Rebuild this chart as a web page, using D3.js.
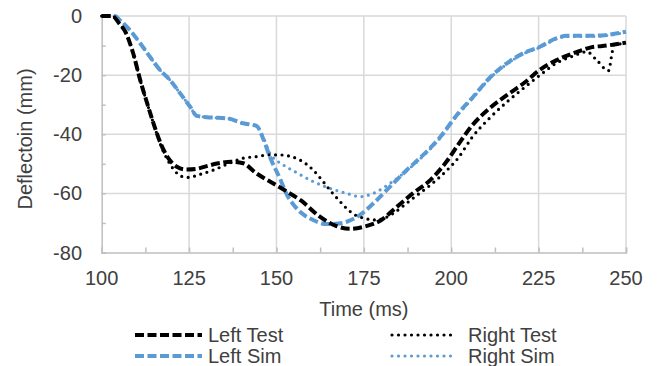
<!DOCTYPE html>
<html>
<head>
<meta charset="utf-8">
<script src="https://cdn.jsdelivr.net/npm/d3@7"></script>
<style>
  html, body { margin: 0; padding: 0; background: #fff; }
  svg { display: block; font-family: "Liberation Sans", Arial, sans-serif; }
</style>
</head>
<body>
<svg id="chart" width="659" height="366"></svg>
<script>
// Deflection histories (ms, mm)
const leftTestTime = [100,103,105,107,109,111,113,115,117,119,121.5,124,127,130,133,137,140.5,144,149,153,157,162,167,171,175,180,184,189,194,198.5,202,206,211,216,221,225,230,235,240,244.5,250];
const leftTestDefl = [0,0,-2.5,-5.9,-12.6,-21.6,-29.5,-37,-43.5,-48,-51,-51.9,-51.7,-50.8,-49.9,-49.3,-49.8,-53,-56.6,-59.4,-62.4,-67.5,-71,-72,-71.3,-69,-65,-60,-55.5,-49.5,-43.5,-37,-31.2,-26.7,-22.5,-18.5,-15,-12.6,-10.6,-10,-9];

const rightTestTime = [100,103,105,107,109,111,113,115,117,119,121,123,125,127.5,132,136.5,140.5,144,148,151,154,156.7,160.5,163,165.3,168,170,172.5,175,178.5,181,183.5,186,189,194,198.5,202,206,211,216,220.6,225.4,230,235,238.8,241.6,245,246,246.5,248,250];
const rightTestDefl = [0,0,-2.5,-5.9,-12.6,-21.6,-29.5,-37,-44,-49,-52.5,-54.3,-54.6,-53.8,-52.1,-49.8,-48.1,-47.6,-47,-47,-47.5,-48.7,-52.1,-55.5,-58.9,-62.5,-65,-67.3,-68.4,-69,-68.3,-66.7,-64.5,-61.7,-57.2,-52.5,-48,-41,-34.5,-29,-24.5,-20,-16,-13.5,-12.1,-14.9,-18.5,-12.6,-9.8,-9.5,-9];

const leftSimTime = [100,103.8,105.2,108,111,113.8,116.7,119.5,122.4,125.3,127.2,131,135.8,140.5,144.3,146.2,148.1,151,153,155,157,160.5,164.4,167,170.1,173.9,177.7,182.5,187.3,192,196.8,201.6,206.3,211.1,215.9,220.6,225.4,230.2,233,239.7,244.5,250];
const leftSimDefl = [0,0,-1.4,-4.7,-9.2,-13.8,-18.3,-21.6,-26.1,-30.7,-33.8,-34.3,-34.6,-36.3,-37.2,-41.5,-47.6,-55,-60.5,-64,-66.5,-69,-70.4,-70.3,-69.6,-67.3,-63.4,-57.7,-52.1,-47,-41,-33.5,-27.3,-20.8,-16,-12.6,-10.4,-7.5,-6.7,-6.7,-6.4,-5.3];

const rightSimTime = [100,103.8,105.2,108,111,113.8,116.7,119.5,122.4,125.3,127.2,131,135.8,140.5,144.3,146.2,148.1,152,155.8,160.5,165.3,170.1,173.9,177.7,182.5,187.3,192,196.8,201.6,206.3,211.1,215.9,220.6,225.4,230.2,233,239.7,244.5,250];
const rightSimDefl = [0,0,-1.4,-4.7,-9.2,-13.8,-18.3,-21.6,-26.1,-30.7,-33.8,-34.3,-34.6,-36.3,-37.2,-41,-46.4,-50.4,-53,-56,-58.3,-60,-61.1,-60,-56.6,-52.3,-47.3,-41.3,-33.8,-27.6,-21,-16.3,-12.8,-10.6,-7.7,-6.9,-6.9,-6.6,-5.5];

const xTicks = [100,125,150,175,200,225,250];
const yTicks = [0,-20,-40,-60,-80];

const series = [
  { name: "Left Test",  t: leftTestTime,  v: leftTestDefl,  color: "#000000", style: "dash" },
  { name: "Right Test", t: rightTestTime, v: rightTestDefl, color: "#000000", style: "dot" },
  { name: "Left Sim",   t: leftSimTime,   v: leftSimDefl,   color: "#5b9bd5", style: "dash" },
  { name: "Right Sim",  t: rightSimTime,  v: rightSimDefl,  color: "#5b9bd5", style: "dot" }
];

const svg = d3.select("#chart");
const plot = { left: 101.7, right: 626, top: 16, bottom: 252.5 };

const x = d3.scaleLinear().domain([100, 250]).range([plot.left, plot.right]);
const y = d3.scaleLinear().domain([-80, 0]).range([plot.bottom, plot.top]);

const textColor = "#404040";
const fontSize = 20;

// gridlines
const grid = svg.append("g");
grid.selectAll("line.v").data(xTicks.slice(1)).join("line")
  .attr("x1", d => x(d)).attr("x2", d => x(d))
  .attr("y1", plot.top).attr("y2", plot.bottom)
  .attr("stroke", "#d9d9d9").attr("stroke-width", 1.5);
grid.selectAll("line.h").data(yTicks.slice(0, -1)).join("line")
  .attr("x1", plot.left).attr("x2", plot.right)
  .attr("y1", d => y(d)).attr("y2", d => y(d))
  .attr("stroke", "#d9d9d9").attr("stroke-width", 1.5);

// axes with inward minor ticks
const xAxis = d3.axisBottom(x).tickValues(d3.range(100, 250.1, 12.5)).tickSize(-5).tickFormat("");
const yAxis = d3.axisLeft(y).tickValues(d3.range(-80, 0.1, 10)).tickSize(-4).tickFormat("");
const gx = svg.append("g").attr("transform", `translate(0,${plot.bottom})`).call(xAxis);
const gy = svg.append("g").attr("transform", `translate(${plot.left},0)`).call(yAxis);
[gx, gy].forEach(g => {
  g.select(".domain").attr("stroke", "#bfbfbf").attr("stroke-width", 1.5);
  g.selectAll(".tick line").attr("stroke", "#bfbfbf").attr("stroke-width", 1.5);
});

// tick labels
svg.append("g").selectAll("text").data(xTicks).join("text")
  .attr("x", d => x(d)).attr("y", 278)
  .attr("text-anchor", "middle").attr("dominant-baseline", "central")
  .attr("font-size", fontSize).attr("fill", textColor)
  .text(d => d);
svg.append("g").selectAll("text").data(yTicks).join("text")
  .attr("x", 82).attr("y", d => y(d))
  .attr("text-anchor", "end").attr("dominant-baseline", "central")
  .attr("font-size", fontSize).attr("fill", textColor)
  .text(d => d);

// axis titles
svg.append("text")
  .attr("x", (plot.left + plot.right) / 2).attr("y", 309)
  .attr("text-anchor", "middle").attr("dominant-baseline", "central")
  .attr("font-size", fontSize).attr("fill", textColor)
  .text("Time (ms)");
svg.append("text")
  .attr("transform", `translate(25,139) rotate(-90)`)
  .attr("text-anchor", "middle").attr("dominant-baseline", "central")
  .attr("font-size", fontSize).attr("fill", textColor)
  .text("Deflectoin (mm)");

function applyStyle(sel, s) {
  if (s.style === "dash") {
    sel.attr("stroke-width", 4).attr("stroke-dasharray", "9,3.5").attr("stroke-linecap", "butt");
  } else {
    sel.attr("stroke-width", 3.2).attr("stroke-dasharray", "0,6.5").attr("stroke-linecap", "round");
  }
  return sel;
}

// series lines
const line = d3.line().x(d => x(d[0])).y(d => y(d[1])).curve(d3.curveMonotoneX);
const drawOrder = [series[3], series[2], series[1], series[0]];
drawOrder.forEach(s => {
  const pts = s.t.map((t, i) => [t, s.v[i]]);
  const p = svg.append("path").datum(pts)
    .attr("d", line).attr("fill", "none").attr("stroke", s.color)
    .attr("stroke-linejoin", "round");
  applyStyle(p, s);
});

// legend
const legendPos = [
  { x1: 135, x2: 202, tx: 208, y: 335 },
  { x1: 392, x2: 454, tx: 468, y: 335 },
  { x1: 135, x2: 202, tx: 208, y: 356 },
  { x1: 392, x2: 454, tx: 468, y: 356 }
];
const legend = svg.append("g");
series.forEach((s, i) => {
  const p = legendPos[i];
  const l = legend.append("line")
    .attr("x1", p.x1).attr("x2", p.x2).attr("y1", p.y).attr("y2", p.y)
    .attr("stroke", s.color);
  applyStyle(l, s);
  legend.append("text")
    .attr("x", p.tx).attr("y", p.y)
    .attr("dominant-baseline", "central")
    .attr("font-size", fontSize).attr("fill", textColor)
    .text(s.name);
});
</script>
</body>
</html>
